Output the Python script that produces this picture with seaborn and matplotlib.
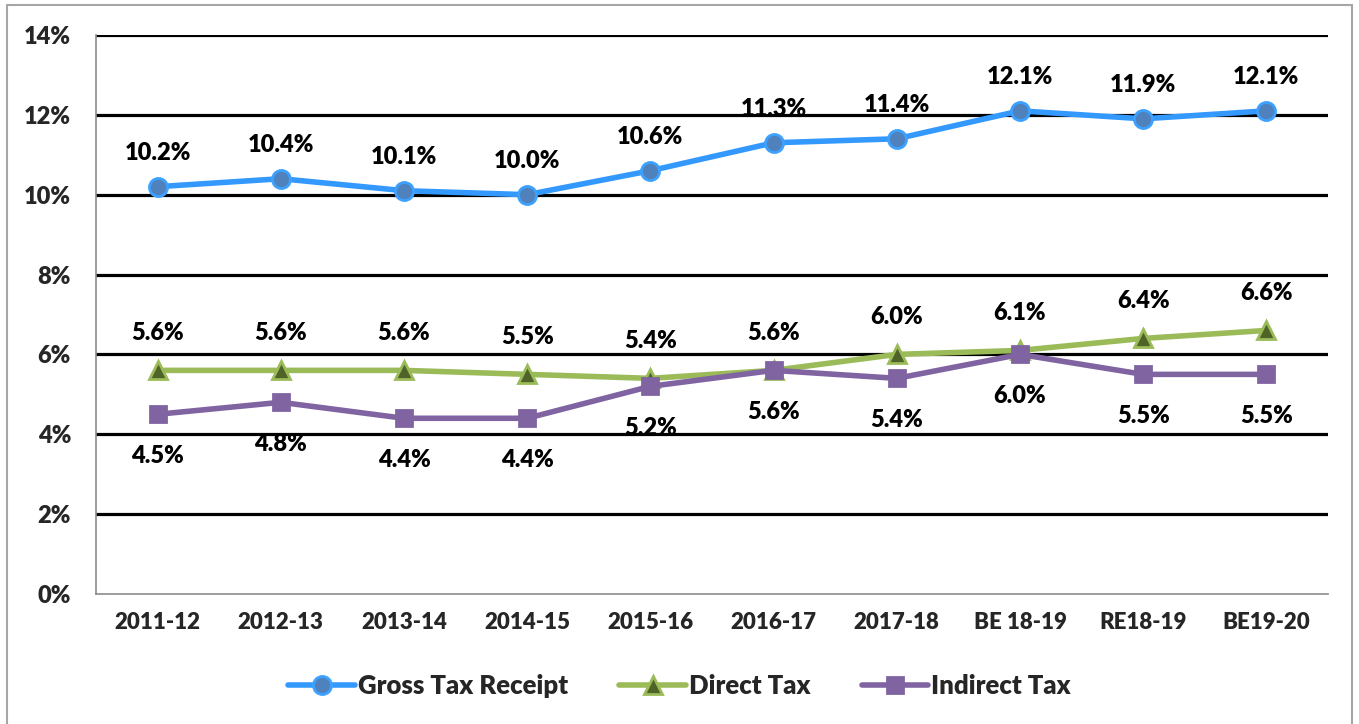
import numpy as np
import pandas as pd
import matplotlib
matplotlib.use("Agg")
import matplotlib.pyplot as plt
import seaborn as sns
from matplotlib.patches import Rectangle

# ---------------------------------------------------------------------------
# data (% of GDP)
# ---------------------------------------------------------------------------
years = ['2011-12', '2012-13', '2013-14', '2014-15', '2015-16', '2016-17',
         '2017-18', 'BE 18-19', 'RE18-19', 'BE19-20']
gross_tax = [10.2, 10.4, 10.1, 10.0, 10.6, 11.3, 11.4, 12.1, 11.9, 12.1]
direct_tax = [5.6, 5.6, 5.6, 5.5, 5.4, 5.6, 6.0, 6.1, 6.4, 6.6]
indirect_tax = [4.5, 4.8, 4.4, 4.4, 5.2, 5.6, 5.4, 6.0, 5.5, 5.5]
y_ticks = [0, 2, 4, 6, 8, 10, 12, 14]

df = pd.DataFrame({'year': years, 'pos': np.arange(len(years)),
                   'Gross Tax Receipt': gross_tax,
                   'Direct Tax': direct_tax,
                   'Indirect Tax': indirect_tax})

sns.set_theme(style='white')
plt.rcParams['font.family'] = ['Lato', 'DejaVu Sans']
W = 800  # heavy, closest to the Calibri bold of the original

fig = plt.figure(figsize=(13.59, 7.24), dpi=100)
ax = fig.add_axes([0.0706, 0.1796, 0.9066, 0.7721])

# outer chart border
fig.patches.append(Rectangle((0.005, -0.01), 0.99, 1.003, transform=fig.transFigure,
                             fill=False, edgecolor='#a6a6a6', linewidth=1.5))

series = [
    ('Gross Tax Receipt', '#3399ff', 'o', '#4f81bd', '#3da1ff', 13, 'above', 34),
    ('Direct Tax', '#9bbb59', '^', '#4f6228', '#9bbb59', 13, 'above', 37),
    ('Indirect Tax', '#8064a2', 's', '#8064a2', '#8064a2', 12, 'below', 42),
]

for name, col, mk, mfc, mec, ms, where, off in series:
    sns.lineplot(data=df, x='pos', y=name, ax=ax, color=col, linewidth=4,
                 marker=mk, markersize=ms, markerfacecolor=mfc,
                 markeredgecolor=mec, markeredgewidth=2, label=name,
                 zorder=4)
    for xp, v in zip(df['pos'], df[name]):
        dy = off if where == 'above' else -off
        ax.annotate(f'{v:.1f}%', (xp, v), xytext=(0, dy * 0.72),
                    textcoords='offset points', ha='center', va='center',
                    fontsize=17, fontweight=W, color='black')

ax.set_xlim(-0.5, len(years) - 0.5)
ax.set_ylim(0, 14)
ax.set_yticks(y_ticks)
ax.set_yticklabels([f'{t}%' for t in y_ticks], fontsize=17, fontweight=W)
for t in y_ticks[1:]:
    ax.axhline(t, color='black', linewidth=2.3, zorder=1)

ax.set_xticks(np.arange(len(years)))
ax.set_xticklabels(years, fontsize=16, fontweight=W)
ax.set_xticks(np.arange(len(years) + 1) - 0.5, minor=True)
ax.tick_params(axis='x', which='major', length=0, pad=13)
ax.tick_params(axis='x', which='minor', length=6, color='#8c8c8c', width=1.2,
               direction='out')
ax.tick_params(axis='y', length=6, color='#8c8c8c', width=1.2, direction='out', pad=12)
ax.set_xlabel('')
ax.set_ylabel('')

for s in ['top', 'right']:
    ax.spines[s].set_visible(False)
for s in ['left', 'bottom']:
    ax.spines[s].set_color('#8c8c8c')
    ax.spines[s].set_linewidth(1.2)

ax.legend(loc='center', bbox_to_anchor=(0.5, 0.052), bbox_transform=fig.transFigure,
          ncol=3, frameon=False, handlelength=2.6,
          handletextpad=0.1, columnspacing=2.0,
          prop={'family': 'Lato', 'weight': W, 'size': 18.5})

fig.savefig('out.png', dpi=100)
